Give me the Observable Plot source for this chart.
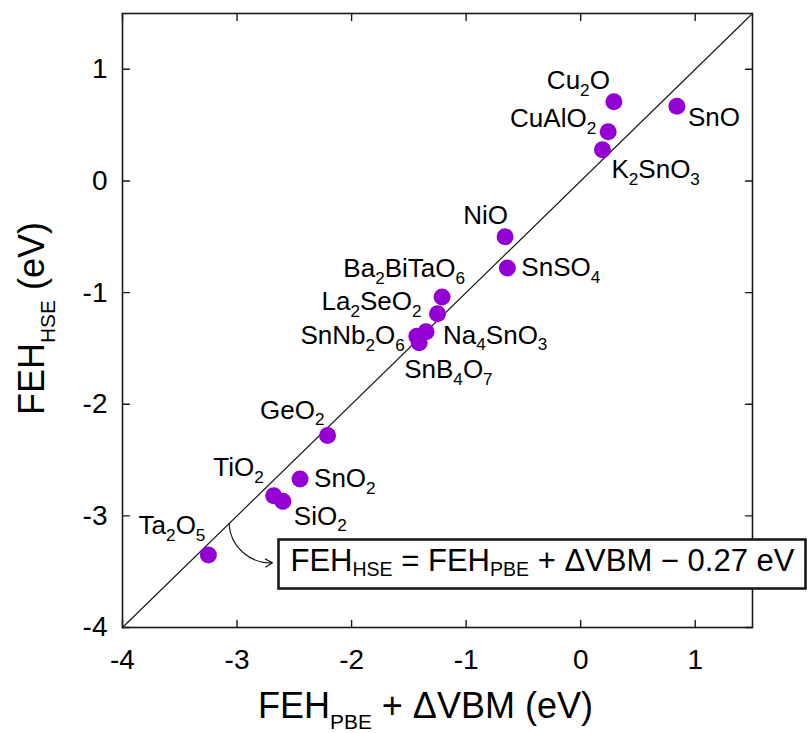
<!DOCTYPE html>
<html><head><meta charset="utf-8">
<script src="https://cdn.jsdelivr.net/npm/d3@7"></script>
<script src="https://cdn.jsdelivr.net/npm/@observablehq/plot@0.6"></script>
<style>
body{margin:0;background:#fff}
svg{overflow:visible}
text{white-space:pre}
</style>
</head><body><div id="chart"></div>
<script>
// ---- data ----
const compounds = ["Cu_{2}O","CuAlO_{2}","K_{2}SnO_{3}","SnO","NiO","SnSO_{4}","Ba_{2}BiTaO_{6}","La_{2}SeO_{2}","SnNb_{2}O_{6}","Na_{4}SnO_{3}","SnB_{4}O_{7}","GeO_{2}","TiO_{2}","SnO_{2}","SiO_{2}","Ta_{2}O_{5}"];
const fehPbePlusDvbm = [0.29,0.24,0.19,0.84,-0.66,-0.64,-1.21,-1.25,-1.43,-1.35,-1.41,-2.21,-2.68,-2.45,-2.60,-3.25];
const fehHse        = [0.71,0.44,0.28,0.67,-0.50,-0.78,-1.04,-1.19,-1.39,-1.35,-1.45,-2.28,-2.82,-2.67,-2.87,-3.35];
const xTicks = [-4,-3,-2,-1,0,1];
const yTicks = [-4,-3,-2,-1,0,1];
const axisDomain = [-4,1.5];
const xLabel = "FEH_{PBE} + ΔVBM (eV)";
const yLabel = "FEH_{HSE} (eV)";
const equation = "FEH_{HSE} = FEH_{PBE} + ΔVBM − 0.27 eV";
const arrowAnnot = [{x1:-3.07, y1:-3.07, x2:-2.69, y2:-3.42}];

// ---- layout of labels: [textAnchor, dx, dy] ----
const labelPlacement = [
 ["end",-4,-21],["end",-12,-13],["start",9,20],["start",11,12],
 ["end",3,-21],["start",14,0],["end",23,-28],["end",-16,-12],
 ["end",-12,0],["start",17,4],["start",-15,27],["end",-3,-25],
 ["end",-10,-28],["start",14,0],["start",11,15],["end",-3,-29]
];

const points = compounds.map((name,i)=>({name, x:fehPbePlusDvbm[i], y:fehHse[i]}));
const diag = axisDomain.map(v=>({x:v,y:v}));
const FONT = "'Liberation Sans', Arial, Helvetica, sans-serif";
const INK = "#1a1a1a";
const TICK = 7;
const tickShape = {draw(ctx, l){ ctx.moveTo(0,0); ctx.lineTo(0,-l); }};

const chart = Plot.plot({
  width: 807, height: 733,
  marginLeft: 122, marginRight: 55, marginTop: 13, marginBottom: 106,
  style: {fontFamily: FONT, color: "#000", background: "#fff"},
  x: {domain: axisDomain, label: null},
  y: {domain: axisDomain, label: null},
  marks: [
    Plot.line(diag, {x:"x", y:"y", stroke: INK, strokeWidth: 1.2}),
    Plot.frame({stroke: INK, strokeWidth: 1.6}),
    Plot.vector(xTicks, {x: d=>d, y: ()=>axisDomain[0], length: TICK, rotate: 0, anchor: "start", shape: tickShape, stroke: INK, strokeWidth: 1.4}),
    Plot.vector(xTicks, {x: d=>d, y: ()=>axisDomain[1], length: TICK, rotate: 180, anchor: "start", shape: tickShape, stroke: INK, strokeWidth: 1.4}),
    Plot.vector(yTicks, {y: d=>d, x: ()=>axisDomain[0], length: TICK, rotate: 90, anchor: "start", shape: tickShape, stroke: INK, strokeWidth: 1.4}),
    Plot.vector(yTicks, {y: d=>d, x: ()=>axisDomain[1], length: TICK, rotate: 270, anchor: "start", shape: tickShape, stroke: INK, strokeWidth: 1.4}),
    Plot.axisX(xTicks, {tickSize: 0, tickPadding: 22, tickFormat: d=>String(d), fontSize: 28, label: null, fill: "#000"}),
    Plot.axisY(yTicks, {tickSize: 0, tickPadding: 15, tickFormat: d=>String(d), fontSize: 28, label: null, fill: "#000"}),
    Plot.dot(points, {x:"x", y:"y", r: 8.5, fill: "#9400d3"}),
    ...points.map((p,i)=>Plot.text([p], {x:"x", y:"y", text:"name", textAnchor: labelPlacement[i][0], dx: labelPlacement[i][1], dy: labelPlacement[i][2], fontSize: 26, fill:"#000"})),
    Plot.arrow(arrowAnnot, {x1:"x1", y1:"y1", x2:"x2", y2:"y2", bend: -45, stroke: INK, strokeWidth: 1.2, headLength: 10}),
    Plot.frame({insetLeft: 156, insetRight: -53, insetTop: 526, insetBottom: 39, fill: "#fff", stroke: INK, strokeWidth: 2.6}),
    Plot.text([equation], {text: d=>d, frameAnchor: "bottom-left", textAnchor: "start", dx: 168, dy: -57, fontSize: 31, fill:"#000"}),
    Plot.text([xLabel], {text: d=>d, frameAnchor: "bottom", textAnchor: "middle", lineAnchor: "middle", dx: -12, dy: 79, fontSize: 36, fill:"#000"}),
    Plot.text([yLabel], {text: d=>d, frameAnchor: "left", textAnchor: "middle", lineAnchor: "middle", rotate: -90, dx: -90, dy: -2, fontSize: 36, fill:"#000"})
  ]
});
document.getElementById("chart").appendChild(chart);

// ---- turn _{...} into real subscripts ----
function richText(el){
  const s = el.textContent;
  if (!s.includes("_{")) return;
  const fs = parseFloat(getComputedStyle(el).fontSize);
  // subscript size and drop, by text role (font size)
  const [scale, drop] = fs >= 34 ? [0.58, 0.3] : fs >= 29 ? [0.63, 0.17] : [0.66, 0.25];
  el.textContent = "";
  let shifted = false;
  for (const part of s.split(/(_\{[^}]*\})/)) {
    if (!part) continue;
    const t = document.createElementNS("http://www.w3.org/2000/svg","tspan");
    if (part.startsWith("_{")) {
      t.textContent = part.slice(2,-1);
      t.setAttribute("font-size", (fs*scale).toFixed(2));
      t.setAttribute("dy", (fs*drop).toFixed(2));
      shifted = true;
    } else {
      t.textContent = part;
      if (shifted) { t.setAttribute("dy", (-fs*drop).toFixed(2)); shifted = false; }
    }
    el.appendChild(t);
  }
}
d3.select(chart).selectAll("text").each(function(){ richText(this); });
</script>
</body></html>
